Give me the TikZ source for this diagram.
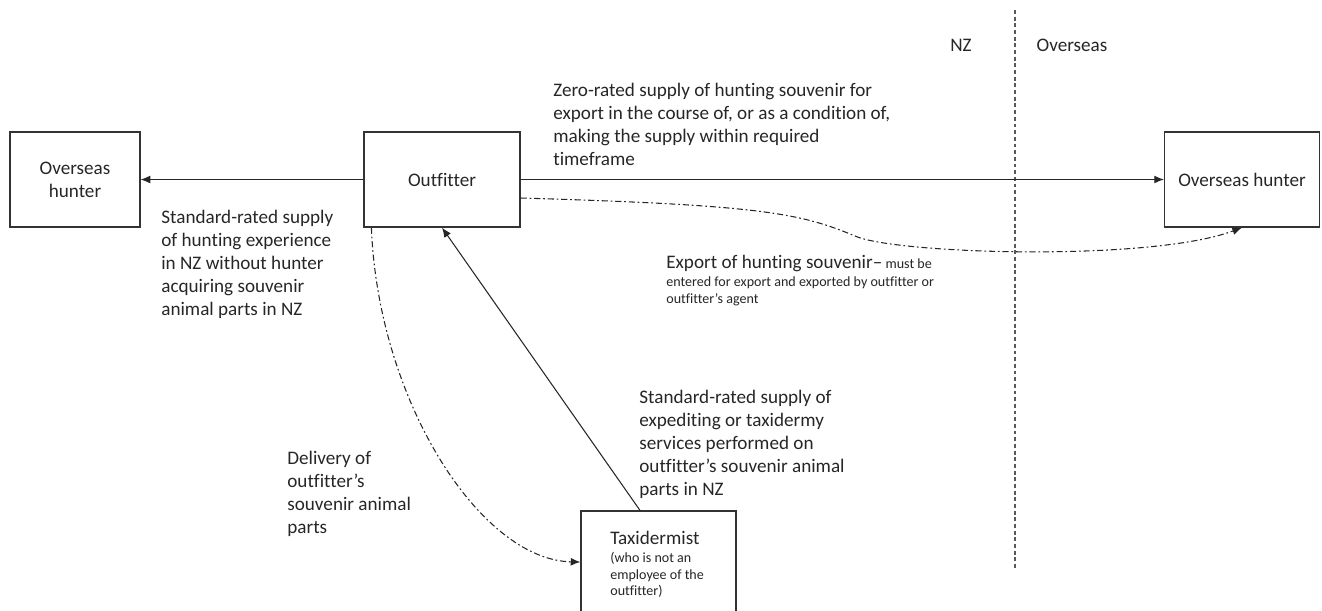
\documentclass[tikz,border=0pt]{standalone}
\usepackage{fontspec}
\setmainfont{Carlito}[Ligatures=NoCommon]
\usetikzlibrary{arrows.meta}
\definecolor{inkgray}{HTML}{262626}
\newcommand{\mainsize}{\fontsize{10.9}{13.1}\selectfont}
\newcommand{\smallsize}{\fontsize{8}{9.4}\selectfont}

\begin{document}
\begin{tikzpicture}[x=0.02cm, y=-0.02cm, text=inkgray,
        flowdash/.style={draw=inkgray, line width=0.6pt, dash pattern=on 3.5pt off 1.6pt on 1pt off 1.6pt, -{Latex[length=5.5pt,width=4.5pt]}}]
    \useasboundingbox (0,0) rectangle (1322,610);
    \clip (0,0) rectangle (1322,610);

    \begin{scope}[every node/.style={draw=black!80, line width=0.7pt, minimum height=1.9cm, align=center, inner sep=2pt, font=\mainsize}]
        \node[minimum width=2.6cm] (hunterL) at (75,179.5) {Overseas\\hunter};
        \node[minimum width=3.12cm] (outfitter) at (442,179.5) {Outfitter};
        \node[minimum width=3.1cm] (hunterR) at (1242,179.5) {Overseas hunter};
        \node[minimum width=3.1cm, minimum height=2.04cm] (taxidermist) at (658.5,562) {};
    \end{scope}

    \begin{scope}[every node/.style={anchor=north west, align=left, inner sep=0pt, font=\mainsize}]
        \node (zerorated) at (553,83) {Zero-rated supply of hunting souvenir for\\export in the course of, or as a condition of,\\making the supply within required\\timeframe};
        \node (standardexp) at (161,210) {Standard-rated supply\\of hunting experience\\in NZ without hunter\\acquiring souvenir\\animal parts in NZ};
        \node (standardtax) at (639,390) {Standard-rated supply of\\expediting or taxidermy\\services performed on\\outfitter’s souvenir animal\\parts in NZ};
        \node (delivery) at (287,451) {Delivery of\\outfitter’s\\souvenir animal\\parts};
        \node[font=\smallsize] (export) at (666,255) {{\mainsize Export of hunting souvenir–} must be\\[0.6pt] entered for export and exported by outfitter or\\[0.6pt] outfitter’s agent};
        \node[font=\smallsize] (taxtext) at (610,531) {{\mainsize Taxidermist}\\[1pt](who is not an\\employee of the\\outfitter)};
        \node[anchor=center] (nz) at (961,45) {NZ};
        \node[anchor=center] (overseas) at (1072,45) {Overseas};
    \end{scope}

    \coordinate (borderTop) at (1015,10);
    \coordinate (borderBot) at (1015,570);
    \draw[draw=black!65, line width=0.8pt, dash pattern=on 2.2pt off 1.6pt] (borderTop) -- (borderBot);

    \begin{scope}[every edge/.style={draw=inkgray, line width=0.6pt, -{Latex[length=5.5pt,width=4.5pt]}}]
        \path (outfitter) edge (hunterL);
        \path (outfitter) edge (hunterR);
        \path ([xshift=-0.37cm]taxidermist.north) edge (outfitter.south);
    \end{scope}

    \draw[flowdash] ([xshift=0.16cm]outfitter.south west) .. controls (378,400) and (480,560) .. (taxidermist.west);
    \draw[flowdash] ([yshift=-0.37cm]outfitter.east) .. controls (760,205) and (800,213) .. (855,236) .. controls (895,254) and (1150,262) .. (hunterR.south);
\end{tikzpicture}
\end{document}
